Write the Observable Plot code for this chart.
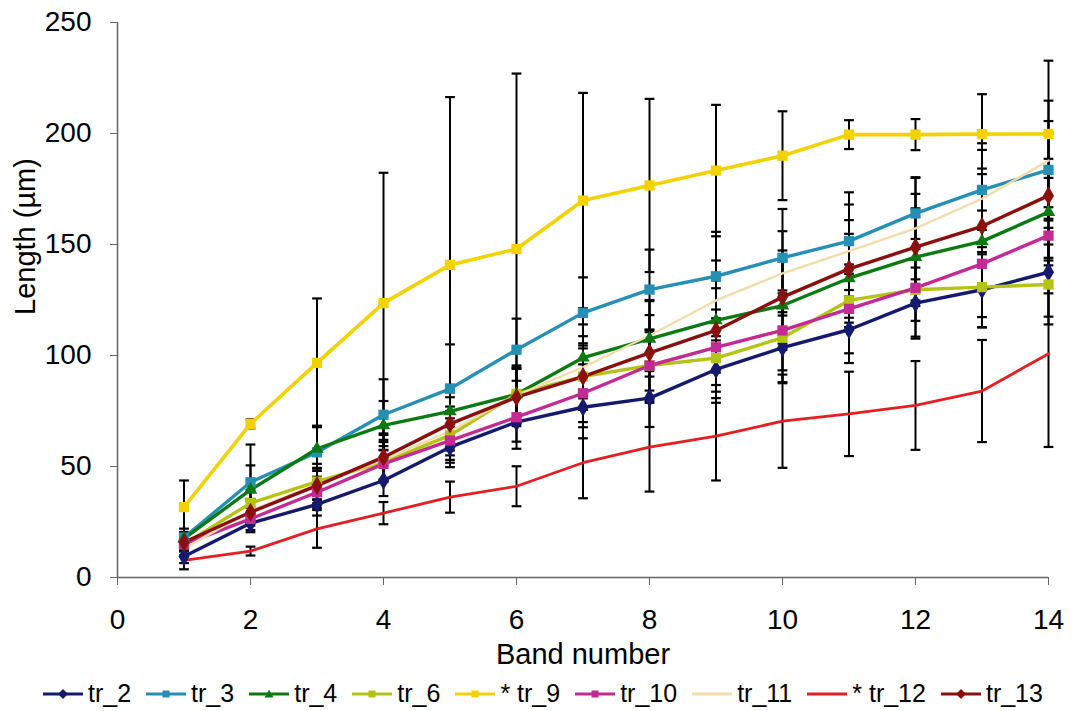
<!DOCTYPE html>
<html><head><meta charset="utf-8">
<script src="https://cdn.jsdelivr.net/npm/d3@7"></script>
<script src="https://cdn.jsdelivr.net/npm/@observablehq/plot@0.6"></script>
<style>
body{margin:0;background:#fff;font-family:"Liberation Sans",Arial,sans-serif;}
#chart svg{display:block;}
#legend{display:flex;align-items:center;height:35px;padding-left:43px;padding-top:0px;font-size:25px;color:#000;white-space:nowrap;}
.item{display:flex;align-items:center;margin-right:15px;}
.item svg{margin-right:5px;}
</style></head><body>
<div id="chart"></div>
<div id="legend"></div>
<script>
const bands = [1,2,3,4,5,6,7,8,9,10,11,12,13,14];
const seriesNames = ["tr_2","tr_3","tr_4","tr_6","* tr_9","tr_10","tr_11","* tr_12","tr_13"];
const seriesColors = ["#161a6e","#2690b4","#0b7a12","#b4c414","#f2d200","#c42a94","#f3dcab","#e41e22","#8a0f0f"];
const seriesSymbols = ["diamond","square","triangle","square","square","square",null,null,"diamond"];
const seriesWidths = [3.4,3.4,3.4,3.4,3.6,3.4,2.4,2.8,3.4];

const tr_2  = [9.5,24.4,32.9,43.7,58.7,70.0,76.7,80.8,93.7,103.5,111.6,123.6,129.6,137.5];
const tr_3  = [18,42.9,56.4,73.3,85.0,102.6,119.2,129.7,135.7,144.0,151.5,164.0,174.6,183.6];
const tr_4  = [17.5,39.5,58.0,68.5,74.8,82.5,99.0,107.5,115.8,122.5,134.8,144.3,151.4,164.6];
const tr_6  = [15,33.5,43.2,52.0,64.0,82.7,90.5,95.5,98.8,108.0,124.8,129.6,130.8,132.0];
const tr_9  = [31.7,69.2,96.7,123.6,140.8,148.0,169.8,176.6,183.3,190.0,199.5,199.5,199.7,199.8];
const tr_10 = [15,26.4,38.4,51.2,61.7,72.2,83.0,95.5,103.7,111.3,121.0,130.5,141.3,154.0];
const tr_11 = [13,30,42,53,66,82,94.7,109,124.8,137.0,147.0,157.3,170.6,187.8];
const tr_12 = [7.7,11.9,21.9,29.0,36.2,41.1,51.7,58.7,63.7,70.4,73.7,77.5,84.0,100.8];
const tr_13 = [15.9,29.4,41.4,54.2,69.2,81.2,90.5,101.2,111.3,126.3,139.0,148.8,158.2,172.0];

const err_2  = [3,4,5,7,9,12,14,13,15,16,15,16,17,20];
const err_3  = [4,17,12,16,20,14,16,18,20,22,22,16,18,22];
const err_4  = [3,11,10,11,12,13,15,17,18,20,20,22,22,24];
const err_6  = [3,6,8,9,11,12,14,16,18,20,12,14,18,18];
const err_9  = [12,2,29,58.7,75.6,79,48.5,39,29.6,20,6.5,7,18,33];
const err_10 = [3,5,7,8,10,11,13,15,17,18,20,22,24,26];
const err_11 = [3,5,7,9,11,12,14,16,18,19,21,23,25,27];
const err_12 = [4,2,8.5,5,7,9,16,20,20,21,19,20,23,42];
const err_13 = [3,6,8,10,12,13,15,17,19,21,22,24,26,28];

const yTicks = [0,50,100,150,200,250];
const xTicks = [0,2,4,6,8,10,12,14];
const xLabel = "Band number";
const yLabel = "Length (µm)";

const values = [tr_2,tr_3,tr_4,tr_6,tr_9,tr_10,tr_11,tr_12,tr_13];
const errors = [err_2,err_3,err_4,err_6,err_9,err_10,err_11,err_12,err_13];

const rows = [];
seriesNames.forEach((s,i)=>{
  bands.forEach((b,j)=>{
    rows.push({series:s, idx:i, band:b, v:values[i][j], e:errors[i][j],
      lo:values[i][j]-errors[i][j], hi:values[i][j]+errors[i][j]});
  });
});

const capSymbol = {draw(ctx,size){const w=Math.sqrt(size)/2;ctx.moveTo(-w,0);ctx.lineTo(w,0);}};

const marks = [
  Plot.ruleX(rows,{x:"band",y1:"lo",y2:"hi",stroke:"#000",strokeWidth:2}),
  Plot.dot(rows,{x:"band",y:"lo",symbol:capSymbol,r:5.5,stroke:"#000",strokeWidth:2.2}),
  Plot.dot(rows,{x:"band",y:"hi",symbol:capSymbol,r:5.5,stroke:"#000",strokeWidth:2.2}),
  Plot.ruleY([0],{stroke:"#666",strokeWidth:1.5}),
  Plot.ruleX([0],{stroke:"#666",strokeWidth:1.5}),
];
seriesNames.forEach((s,i)=>{
  const d = rows.filter(r=>r.idx===i);
  marks.push(Plot.line(d,{x:"band",y:"v",stroke:seriesColors[i],strokeWidth:seriesWidths[i],curve:"linear"}));
});
seriesNames.forEach((s,i)=>{
  if(!seriesSymbols[i]) return;
  const d = rows.filter(r=>r.idx===i);
  marks.push(Plot.dot(d,{x:"band",y:"v",symbol:seriesSymbols[i],fill:seriesColors[i],r:seriesSymbols[i]==="triangle"?5:5.8}));
});

const chart = Plot.plot({
  width:1076, height:676,
  marginLeft:117, marginRight:28, marginTop:22, marginBottom:99,
  style:{fontFamily:"'Liberation Sans', Arial, sans-serif", fontSize:"28px", color:"#000", background:"#fff"},
  x:{domain:[0,14]},
  y:{domain:[0,250]},
  marks:[
    Plot.axisX({ticks:xTicks, tickSize:8, tickPadding:24, label:null, stroke:"#666", fontSize:28}),
    Plot.axisY({ticks:yTicks, tickSize:7, tickPadding:19, label:null, stroke:"#666", fontSize:28}),
    Plot.text([xLabel],{frameAnchor:"bottom", text:d=>d, dy:86, lineAnchor:"bottom", fontSize:29, fill:"#000"}),
    Plot.text([yLabel],{frameAnchor:"left", text:d=>d, dx:-92, dy:15, rotate:-90, fontSize:29, fill:"#000"}),
    ...marks
  ]
});
document.getElementById("chart").appendChild(chart);

const legend = document.getElementById("legend");
seriesNames.forEach((s,i)=>{
  const item = document.createElement("div");
  item.className="item";
  const w=40,h=16;
  let mk="";
  const c=seriesColors[i];
  if(seriesSymbols[i]==="diamond") mk=`<path d="M20 3 L25 8 L20 13 L15 8 Z" fill="${c}"/>`;
  else if(seriesSymbols[i]==="square") mk=`<rect x="16.5" y="4.5" width="7" height="7" fill="${c}"/>`;
  else if(seriesSymbols[i]==="triangle") mk=`<path d="M20 3.5 L24.5 11.5 L15.5 11.5 Z" fill="${c}"/>`;
  item.innerHTML = `<svg width="${w}" height="${h}"><line x1="0" y1="8" x2="40" y2="8" stroke="${c}" stroke-width="3"/>${mk}</svg><span>${s}</span>`;
  legend.appendChild(item);
});
</script>
</body></html>
